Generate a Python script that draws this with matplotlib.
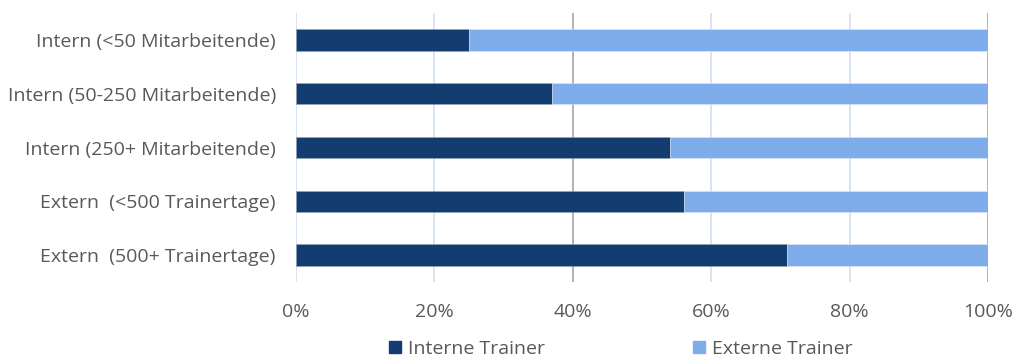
import matplotlib.pyplot as plt
import matplotlib.patches as mpatches
import numpy as np

plt.rcParams["font.family"] = ["Open Sans", "DejaVu Sans"]

categories = [
    "Intern (<50 Mitarbeitende)",
    "Intern (50-250 Mitarbeitende)",
    "Intern (250+ Mitarbeitende)",
    "Extern  (<500 Trainertage)",
    "Extern  (500+ Trainertage)",
]
interne = [0.25, 0.37, 0.54, 0.56, 0.71]
externe = [0.75, 0.63, 0.46, 0.44, 0.29]
x_ticks = [0, 0.2, 0.4, 0.6, 0.8, 1.0]
x_labels = ["0%", "20%", "40%", "60%", "80%", "100%"]

DARK = "#133c71"
LIGHT = "#7facea"
TEXT = "#595959"

fig = plt.figure(figsize=(10.19, 3.58), dpi=100)
ax = fig.add_axes([296 / 1019, 1 - 282 / 358, 692 / 1019, 269 / 358])

y = np.arange(len(categories))
ax.barh(y, interne, height=0.4, color=DARK, edgecolor="#9aa6b4", linewidth=0.4, zorder=3)
ax.barh(y, externe, left=interne, height=0.4, color=LIGHT, edgecolor="#dfe8f3", linewidth=0.4, zorder=3)

# gridlines: 40% and 100% in grey, the rest pale blue
for xv in x_ticks:
    col = "#a9adb3" if xv in (0.4, 1.0) else "#d5e2f2"
    ax.axvline(xv, color=col, linewidth=1.3, zorder=1)

ax.set_xlim(0, 1)
ax.set_ylim(len(categories) - 0.5, -0.5)
ax.set_xticks(x_ticks)
ax.set_xticklabels(x_labels, fontsize=14, color=TEXT)
ax.set_yticks(y)
ax.set_yticklabels(categories, fontsize=14, color=TEXT)
ax.tick_params(axis="x", length=0, pad=15)
ax.tick_params(axis="y", length=0, pad=14.5)
for spine in ax.spines.values():
    spine.set_visible(False)

handles = [mpatches.Patch(color=DARK, label="Interne Trainer"),
           mpatches.Patch(color=LIGHT, label="Externe Trainer")]
fig.legend(handles=handles, loc="center", bbox_to_anchor=(621 / 1019, 1 - 349 / 358),
           ncol=2, frameon=False, fontsize=14, labelcolor=TEXT,
           handlelength=0.62, handleheight=0.62, handletextpad=0.35, columnspacing=7.6)

fig.savefig("out.png", dpi=100)
